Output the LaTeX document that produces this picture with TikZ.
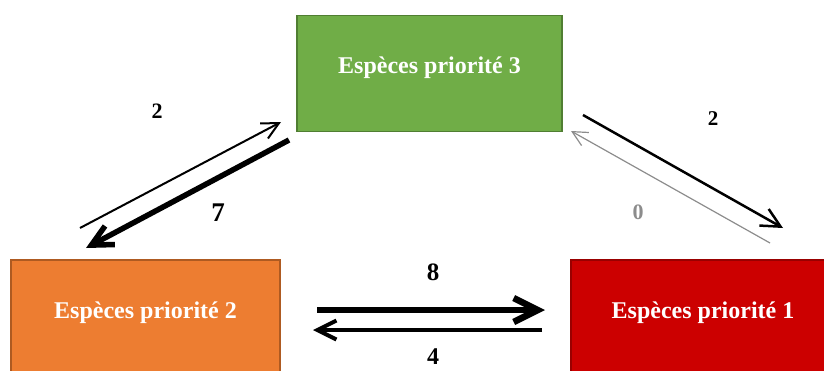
\documentclass[tikz,border=0pt]{standalone}
\usepackage{fontspec}
\setmainfont{Liberation Serif}
\usetikzlibrary{arrows.meta}
\definecolor{gfill}{HTML}{70AD47}
\definecolor{gline}{HTML}{507E32}
\definecolor{ofill}{HTML}{ED7D31}
\definecolor{oline}{HTML}{AE5A21}
\definecolor{rfill}{HTML}{CC0000}
\definecolor{rline}{HTML}{990000}
\definecolor{zgray}{HTML}{8C8C8C}
\tikzset{
  boxbase/.style={rectangle, minimum width=265pt, minimum height=116pt, line width=1.2pt, inner sep=0pt},
  boxtext/.style={text=white, font=\fontsize{24}{28}\selectfont\bfseries, inner sep=0pt},
  numlab/.style={font=\bfseries, inner sep=0pt},
  flow/.style={-{Straight Barb[length=#1, width=#1]}},
}
\begin{document}
\begin{tikzpicture}[x=1pt,y=-1pt]
\useasboundingbox (0,0) rectangle (824,370);
\clip (0,0) rectangle (824,370);
% boxes
\node[boxbase, fill=gfill, draw=gline] (p3) at (429.5,73.5) {};
\node[boxtext] (t3) at (429.5,68) {Espèces priorité 3};
\node[boxbase, minimum width=269pt, fill=ofill, draw=oline] (p2) at (145.5,318) {};
\node[boxtext] (t2) at (145.5,313) {Espèces priorité 2};
\node[boxbase, fill=rfill, draw=rline] (p1) at (703.5,318) {};
\node[boxtext] (t1) at (703,313) {Espèces priorité 1};
% coordinates for connectors
\coordinate (a1s) at (80,228);  \coordinate (a1e) at (281,122);
\coordinate (a2s) at (289,140); \coordinate (a2e) at (86,248);
\coordinate (a3s) at (583,115); \coordinate (a3e) at (783,228);
\coordinate (a4s) at (770,243); \coordinate (a4e) at (571,131);
\coordinate (a5s) at (317,310); \coordinate (a5e) at (545,310);
\coordinate (a6s) at (542,330); \coordinate (a6e) at (313,330);
% connectors
\draw[flow=17pt, line width=2pt] (a1s) -- (a1e);
\draw[flow=21pt, line width=5.5pt] (a2s) -- (a2e);
\draw[flow=19pt, line width=2.5pt] (a3s) -- (a3e);
\draw[flow=15pt, line width=1.2pt, zgray] (a4s) -- (a4e);
\draw[flow=24pt, line width=6.5pt] (a5s) -- (a5e);
\draw[flow=19pt, line width=4pt] (a6s) -- (a6e);
% labels
\node[numlab, font=\fontsize{22}{24}\selectfont\bfseries] (l1) at (157,111) {2};
\node[numlab, font=\fontsize{27}{29}\selectfont\bfseries] (l2) at (218,213) {7};
\node[numlab, font=\fontsize{21}{23}\selectfont\bfseries] (l3) at (713,119) {2};
\node[numlab, font=\fontsize{22}{24}\selectfont\bfseries, text=zgray] (l4) at (638,212) {0};
\node[numlab, font=\fontsize{25}{27}\selectfont\bfseries] (l5) at (433,272) {8};
\node[numlab, font=\fontsize{24}{26}\selectfont\bfseries] (l6) at (433,357) {4};
\end{tikzpicture}
\end{document}
